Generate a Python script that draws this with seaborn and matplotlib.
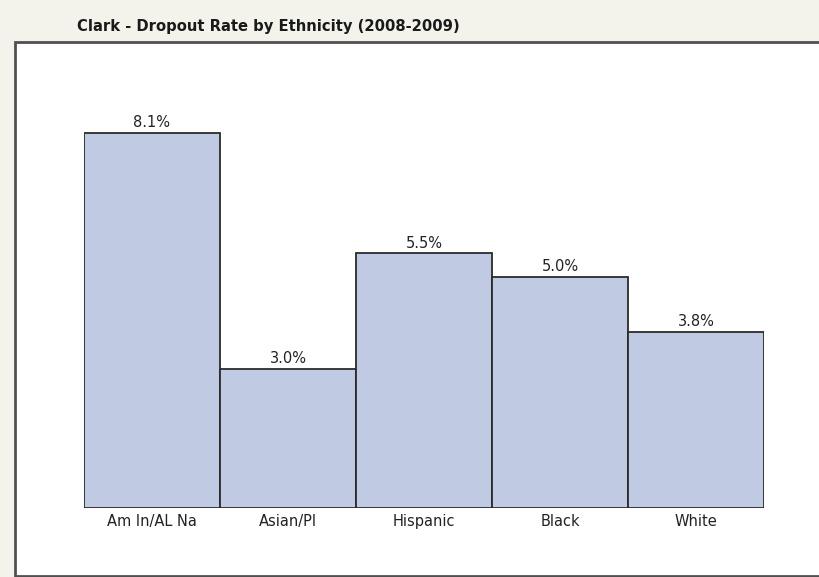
import matplotlib
matplotlib.use("Agg")
import matplotlib.pyplot as plt
import seaborn as sns
import pandas as pd
from matplotlib.patches import Rectangle

categories = ["Am In/AL Na", "Asian/PI", "Hispanic", "Black", "White"]
rates = [8.1, 3.0, 5.5, 5.0, 3.8]
title = "Clark - Dropout Rate by Ethnicity (2008-2009)"

sns.set_theme(style="white")
plt.rcParams['font.family'] = ['DejaVu Sans']

W, H = 820, 577
fig = plt.figure(figsize=(W / 100, H / 100), dpi=100)
fig.patch.set_facecolor("#f3f3ec")

# white framed panel
frame = Rectangle((15 / W, 1 / H), (W + 20 - 15) / W, (576 - 42) / H,
                  transform=fig.transFigure, facecolor="white",
                  edgecolor="#505050", linewidth=2.0, zorder=-5)
fig.patches.append(frame)

ax = fig.add_axes([84 / W, (H - 508) / H, 680 / W, (508 - 42) / H])
ax.set_facecolor("none")
ax.set_zorder(2)

df = pd.DataFrame({"cat": categories, "rate": rates})
sns.barplot(data=df, x="cat", y="rate", ax=ax, color="#c0cbe3", saturation=1,
            width=1.0, edgecolor="#2b2b2b", linewidth=1.3)

ax.set_xlim(-0.5, len(categories) - 0.5)
ax.set_ylim(0, (508 - 42) / 46.3)
ax.bar_label(ax.containers[0], labels=[f"{v:.1f}%" for v in rates],
             padding=2, fontsize=10.5, color="#222222")
for s in ax.spines.values():
    s.set_visible(False)
ax.set_yticks([])
ax.set_xlabel("")
ax.set_ylabel("")
ax.tick_params(axis="x", length=0, pad=4, labelsize=10.5, labelcolor="#222222")

fig.text(268 / W, 1 - 27 / H, title, ha="center", va="center",
         fontsize=10.6, fontweight="bold", color="#1a1a1a")

fig.savefig("out.png", dpi=100, facecolor=fig.get_facecolor())
